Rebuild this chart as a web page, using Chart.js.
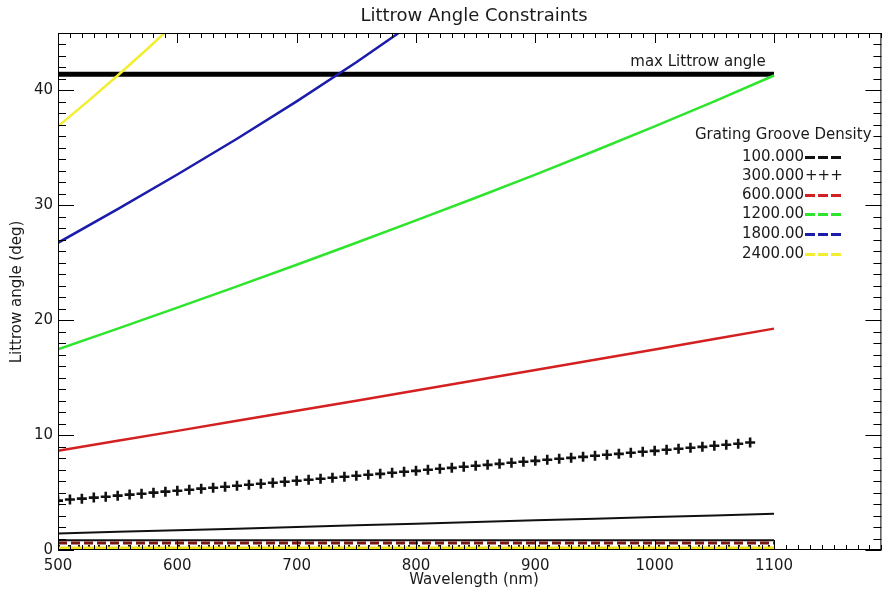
<!DOCTYPE html>
<html>
<head>
<meta charset="utf-8">
<script src="https://cdn.jsdelivr.net/npm/chart.js@4/dist/chart.umd.min.js"></script>
<style>
html,body{margin:0;padding:0;background:#fff;}
#wrap{width:889px;height:594px;position:relative;}
</style>
</head>
<body>
<div id="wrap"><canvas id="c"></canvas></div>
<script>
// ---- data ----
const chartTitle = 'Littrow Angle Constraints';
const xTitle = 'Wavelength (nm)';
const yTitle = 'Littrow angle (deg)';
const legendTitle = 'Grating Groove Density';
const legendLabels = ['100.000', '300.000', '600.000', '1200.00', '1800.00', '2400.00'];
const maxLabel = 'max Littrow angle';

const xTickLabels = [500, 600, 700, 800, 900, 1000, 1100];
const yTickLabels = [0, 10, 20, 30, 40];

const wavelengths = [500, 550, 600, 650, 700, 750, 800, 850, 900, 950, 1000, 1050, 1100];
const angle100  = [1.43, 1.58, 1.72, 1.86, 2.01, 2.15, 2.29, 2.44, 2.58, 2.72, 2.87, 3.01, 3.15];
const angle600  = [8.63, 9.50, 10.37, 11.25, 12.12, 13.00, 13.89, 14.77, 15.66, 16.56, 17.46, 18.36, 19.27];
const angle1200 = [17.46, 19.27, 21.10, 22.95, 24.83, 26.74, 28.69, 30.66, 32.68, 34.75, 36.87, 39.05, 41.30];

const wavelengths1800 = [500, 550, 600, 650, 700, 750, 800];
const angle1800 = [26.74, 29.67, 32.68, 35.80, 39.05, 42.45, 46.05];

const wavelengths2400 = [500, 525, 550, 575, 600];
const angle2400 = [36.87, 39.05, 41.30, 43.63, 46.05];

const wavelengths300 = [500,510,520,530,540,550,560,570,580,590,600,610,620,630,640,650,660,670,680,690,
  700,710,720,730,740,750,760,770,780,790,800,810,820,830,840,850,860,870,880,890,
  900,910,920,930,940,950,960,970,980,990,1000,1010,1020,1030,1040,1050,1060,1070,1080];
const angle300 = [4.30,4.39,4.47,4.56,4.64,4.73,4.82,4.90,4.99,5.08,5.16,5.25,5.34,5.42,5.51,5.59,5.68,5.77,5.85,5.94,
  6.03,6.11,6.20,6.29,6.37,6.46,6.55,6.63,6.72,6.81,6.89,6.98,7.07,7.15,7.24,7.33,7.41,7.50,7.59,7.68,
  7.76,7.85,7.94,8.02,8.11,8.20,8.29,8.37,8.46,8.55,8.63,8.72,8.81,8.90,8.98,9.07,9.16,9.25,9.36];

const maxRange = [500, 1100];
const maxAngle = [41.4, 41.4];

const bandRange = [500, 1100];
const bandTop    = [0.85, 0.85];
const bandRed    = [0.6, 0.6];
const bandDots   = [0.35, 0.35];
const bandYellow = [0.13, 0.13];

const xMin = 500, xMax = 1190, yMin = 0, yMax = 45;
const xMajor = 100, xMinor = 10, yMajor = 10, yMinor = 1;

const colors = ['#111111', '#111111', '#d42020', '#2ee52e', '#1c1caa', '#f2ee30'];

// ---- helpers ----
const pts = (xs, ys) => xs.map((x, i) => ({x: x, y: ys[i]}));
const FONT = '"DejaVu Sans", sans-serif';

const lineDs = (label, xs, ys, color, width, extra) => Object.assign({
  label: label, data: pts(xs, ys), borderColor: color, backgroundColor: color,
  borderWidth: width, pointRadius: 0, showLine: true, fill: false, tension: 0
}, extra || {});

const datasets = [
  lineDs('band-yellow', bandRange, bandYellow, '#f0e020', 4),
  lineDs('band-dots', bandRange, bandDots, '#111', 2, {borderDash: [2, 8]}),
  lineDs('band-red', bandRange, bandRed, '#7a1410', 3, {borderDash: [9, 4]}),
  lineDs('band-top', bandRange, bandTop, '#111', 2),
  lineDs(legendLabels[0], wavelengths, angle100, colors[0], 2),
  {label: legendLabels[1], data: pts(wavelengths300, angle300), showLine: false,
   pointStyle: 'cross', pointRadius: 5, borderWidth: 2.6, borderColor: colors[1], backgroundColor: colors[1]},
  lineDs(legendLabels[2], wavelengths, angle600, colors[2], 2.5),
  lineDs(legendLabels[3], wavelengths, angle1200, colors[3], 2.5),
  lineDs(legendLabels[4], wavelengths1800, angle1800, colors[4], 2.5),
  lineDs(legendLabels[5], wavelengths2400, angle2400, colors[5], 2.5),
  lineDs('max', maxRange, maxAngle, '#000', 5)
];

const decorPlugin = {
  id: 'decor',
  afterDraw(chart) {
    const ctx = chart.ctx;
    const a = chart.chartArea;
    const xs = chart.scales.x, ys = chart.scales.y;
    ctx.save();
    // frame
    ctx.strokeStyle = '#000';
    ctx.lineWidth = 1;
    ctx.strokeRect(a.left + 0.5, a.top + 0.5, a.right - a.left - 1, a.bottom - a.top - 1);
    // inward ticks
    ctx.beginPath();
    for (let v = xMin; v <= xMax + 0.001; v += xMinor) {
      const p = Math.round(xs.getPixelForValue(v)) + 0.5;
      const len = (Math.abs(v % xMajor) < 0.001) ? 10 : 5;
      ctx.moveTo(p, a.bottom); ctx.lineTo(p, a.bottom - len);
      ctx.moveTo(p, a.top); ctx.lineTo(p, a.top + len);
    }
    for (let v = yMin; v <= yMax + 0.001; v += yMinor) {
      const p = Math.round(ys.getPixelForValue(v)) + 0.5;
      const len = (Math.abs(v % yMajor) < 0.001) ? 16 : 8;
      ctx.moveTo(a.left, p); ctx.lineTo(a.left + len, p);
      ctx.moveTo(a.right, p); ctx.lineTo(a.right - len, p);
    }
    ctx.stroke();

    ctx.fillStyle = '#1a1a1a';
    ctx.textBaseline = 'middle';
    ctx.font = '15px ' + FONT;
    // tick labels
    ctx.textAlign = 'center';
    xTickLabels.forEach(v => ctx.fillText(String(v), xs.getPixelForValue(v), 566));
    ctx.textAlign = 'right';
    yTickLabels.forEach(v => ctx.fillText(String(v), 53, ys.getPixelForValue(v)));
    // title
    ctx.font = '18px ' + FONT;
    ctx.textAlign = 'center';
    ctx.fillText(chartTitle, 474, 16);
    // axis titles
    ctx.font = '15px ' + FONT;
    ctx.fillText(xTitle, 474, 580);
    ctx.save();
    ctx.translate(17, 292);
    ctx.rotate(-Math.PI / 2);
    ctx.fillText(yTitle, 0, 0);
    ctx.restore();
    // max label
    ctx.fillText(maxLabel, 698, 62);
    // legend
    ctx.textAlign = 'left';
    ctx.fillText(legendTitle, 695, 135);
    const rowY = [157, 176, 195, 214, 234, 254];
    legendLabels.forEach((lab, i) => {
      ctx.textAlign = 'right';
      ctx.fillStyle = '#1a1a1a';
      ctx.fillText(lab, 804, rowY[i]);
      if (i === 1) {
        ctx.textAlign = 'left';
        ctx.fillText('+++', 805, rowY[i]);
      } else {
        ctx.save();
        ctx.strokeStyle = colors[i];
        ctx.lineWidth = 3;
        ctx.setLineDash([10, 3]);
        ctx.beginPath();
        ctx.moveTo(805, rowY[i] + 0.5);
        ctx.lineTo(843, rowY[i] + 0.5);
        ctx.stroke();
        ctx.restore();
      }
    });
    ctx.restore();
  }
};

new Chart(document.getElementById('c'), {
  type: 'scatter',
  data: {datasets: datasets},
  plugins: [decorPlugin],
  options: {
    responsive: true,
    maintainAspectRatio: false,
    devicePixelRatio: 1,
    animation: false,
    layout: {padding: {left: 0, right: 6, top: 33, bottom: 0}},
    plugins: {legend: {display: false}, tooltip: {enabled: false}, title: {display: false}},
    scales: {
      x: {
        type: 'linear', min: xMin, max: xMax,
        afterFit: s => { s.height = 44; },
        grid: {display: false, drawTicks: false},
        border: {display: false},
        ticks: {display: false}
      },
      y: {
        type: 'linear', min: yMin, max: yMax,
        afterFit: s => { s.width = 58; },
        grid: {display: false, drawTicks: false},
        border: {display: false},
        ticks: {display: false}
      }
    }
  }
});
</script>
</body>
</html>
